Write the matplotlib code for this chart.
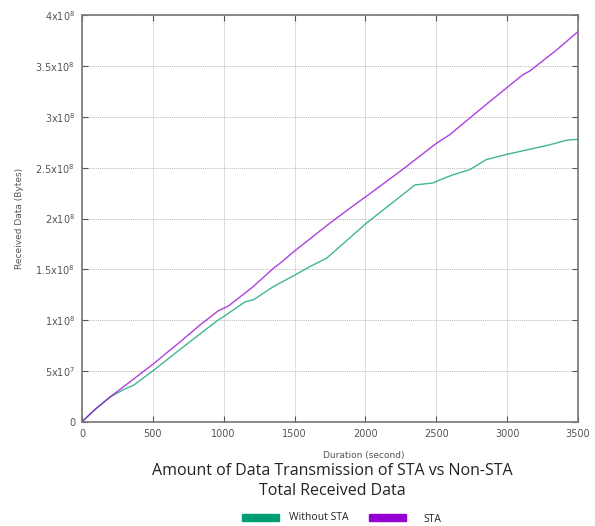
import matplotlib.pyplot as plt
from matplotlib.patches import Rectangle

# Data (seconds, bytes)
t_sta = [0, 100, 200, 350, 500, 700, 834, 960, 987, 1034, 1200, 1351, 1398, 1500,
         1750, 1938, 2008, 2250, 2501, 2595, 2850, 3111, 3158, 3350, 3500]
rx_sta = [0, 0.13e8, 0.245e8, 0.405e8, 0.565e8, 0.795e8, 0.953e8, 1.09e8, 1.107e8, 1.14e8,
          1.32e8, 1.51e8, 1.56e8, 1.68e8, 1.955e8, 2.15e8, 2.22e8, 2.47e8, 2.74e8, 2.825e8,
          3.12e8, 3.415e8, 3.45e8, 3.66e8, 3.84e8]

t_nosta = [0, 100, 200, 300, 365, 500, 700, 870, 960, 1000, 1151, 1210, 1351, 1504,
           1609, 1727, 2008, 2349, 2478, 2525, 2618, 2736, 2853, 2994, 3299, 3417, 3500]
rx_nosta = [0, 0.13e8, 0.245e8, 0.32e8, 0.36e8, 0.50e8, 0.72e8, 0.904e8, 1.0e8, 1.035e8,
            1.18e8, 1.2e8, 1.33e8, 1.445e8, 1.527e8, 1.61e8, 1.955e8, 2.33e8, 2.35e8,
            2.38e8, 2.43e8, 2.48e8, 2.58e8, 2.63e8, 2.725e8, 2.77e8, 2.78e8]

xticks = [0, 500, 1000, 1500, 2000, 2500, 3000, 3500]
yticks = [0, 0.5e8, 1e8, 1.5e8, 2e8, 2.5e8, 3e8, 3.5e8, 4e8]
ytick_labels = ['0', '5x10$^{7}$', '1x10$^{8}$', '1.5x10$^{8}$', '2x10$^{8}$',
                '2.5x10$^{8}$', '3x10$^{8}$', '3.5x10$^{8}$', '4x10$^{8}$']

green = '#009e73'
purple = '#9400d3'
gray = '#555555'

fig = plt.figure(figsize=(5.95, 5.26), dpi=100)
ax = fig.add_axes([0.1378, 0.1983, 0.8336, 0.7726])

ax.plot(t_nosta, rx_nosta, color=green, lw=1.0, alpha=0.75)
ax.plot(t_sta, rx_sta, color=purple, lw=1.0, alpha=0.75)

ax.set_xlim(0, 3500)
ax.set_ylim(0, 4e8)
ax.set_xticks(xticks)
ax.set_xticklabels([str(v) for v in xticks])
ax.set_yticks(yticks)
ax.set_yticklabels(ytick_labels)
ax.grid(True, color='#bbbbbb', linestyle=(0, (1, 1)), lw=0.7)
ax.tick_params(direction='in', top=True, right=True, length=4, color=gray,
               labelsize=7, labelcolor=gray, pad=5)
for s in ax.spines.values():
    s.set_color('#777777')
    s.set_linewidth(1.2)

ax.set_xlabel('Duration (second)', fontsize=6.5, color=gray)
ax.xaxis.set_label_coords(0.569, -0.073)
ax.set_ylabel('Received Data (Bytes)', fontsize=6.5, color=gray, labelpad=8)

# title, two lines below the plot (sits right of the axes centre in the original)
fig.text(332 / 595, 1 - 471 / 526, 'Amount of Data Transmission of STA vs Non-STA',
         ha='center', va='center', fontsize=11.5, family='Open Sans', color='#222222')
fig.text(332 / 595, 1 - 491 / 526, 'Total Received Data',
         ha='center', va='center', fontsize=11.5, family='Open Sans', color='#222222')

# legend below the title
fig.patches.append(Rectangle((242 / 595, 1 - 521 / 526), 37 / 595, 7 / 526,
                             transform=fig.transFigure, color=green))
fig.patches.append(Rectangle((369 / 595, 1 - 521 / 526), 37 / 595, 7 / 526,
                             transform=fig.transFigure, color=purple))
fig.text(289 / 595, 1 - 518 / 526, 'Without STA', fontsize=7.5, family='Open Sans',
         va='center', color='#222222')
fig.text(423 / 595, 1 - 519 / 526, 'STA', fontsize=7.5, family='Open Sans',
         va='center', color='#222222')

fig.savefig('out.png', dpi=100)
